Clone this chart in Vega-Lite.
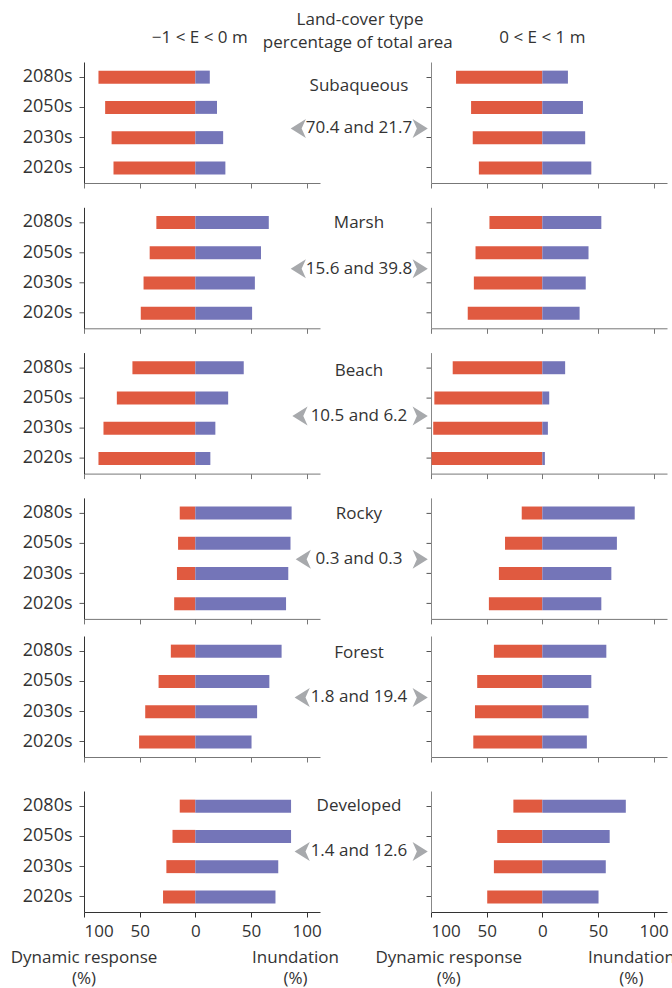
{
  "$schema": "https://vega.github.io/schema/vega-lite/v6.json",
  "background": "white",
  "padding": {"left": 10, "top": 11, "right": 0, "bottom": 0},
  "config": {
    "view": {"stroke": null},
    "font": "Open Sans",
    "text": {"font": "Open Sans", "fontSize": 17, "color": "#333333"},
    "axis": {"grid": false, "tickSize": 5, "labelFont": "Open Sans", "labelFontSize": 17, "labelColor": "#333333", "domainColor": "#555555", "tickColor": "#555555"},
    "axisY": {"labelFontSize": 18, "labelPadding": 7}
  },
  "datasets": {
    "bars": [
      {"t":"Subaqueous","z":"neg","d":"2080s","r":"Dynamic response","v":-87},{"t":"Subaqueous","z":"neg","d":"2080s","r":"Inundation","v":13},
      {"t":"Subaqueous","z":"neg","d":"2050s","r":"Dynamic response","v":-81},{"t":"Subaqueous","z":"neg","d":"2050s","r":"Inundation","v":19.5},
      {"t":"Subaqueous","z":"neg","d":"2030s","r":"Dynamic response","v":-75.2},{"t":"Subaqueous","z":"neg","d":"2030s","r":"Inundation","v":25},
      {"t":"Subaqueous","z":"neg","d":"2020s","r":"Dynamic response","v":-73.5},{"t":"Subaqueous","z":"neg","d":"2020s","r":"Inundation","v":27},
      {"t":"Subaqueous","z":"pos","d":"2080s","r":"Dynamic response","v":-77.5},{"t":"Subaqueous","z":"pos","d":"2080s","r":"Inundation","v":23},
      {"t":"Subaqueous","z":"pos","d":"2050s","r":"Dynamic response","v":-64},{"t":"Subaqueous","z":"pos","d":"2050s","r":"Inundation","v":36.5},
      {"t":"Subaqueous","z":"pos","d":"2030s","r":"Dynamic response","v":-62.5},{"t":"Subaqueous","z":"pos","d":"2030s","r":"Inundation","v":38.5},
      {"t":"Subaqueous","z":"pos","d":"2020s","r":"Dynamic response","v":-57},{"t":"Subaqueous","z":"pos","d":"2020s","r":"Inundation","v":44},
      {"t":"Marsh","z":"neg","d":"2080s","r":"Dynamic response","v":-35},{"t":"Marsh","z":"neg","d":"2080s","r":"Inundation","v":66},
      {"t":"Marsh","z":"neg","d":"2050s","r":"Dynamic response","v":-41},{"t":"Marsh","z":"neg","d":"2050s","r":"Inundation","v":59},
      {"t":"Marsh","z":"neg","d":"2030s","r":"Dynamic response","v":-46.5},{"t":"Marsh","z":"neg","d":"2030s","r":"Inundation","v":53.5},
      {"t":"Marsh","z":"neg","d":"2020s","r":"Dynamic response","v":-49},{"t":"Marsh","z":"neg","d":"2020s","r":"Inundation","v":51},
      {"t":"Marsh","z":"pos","d":"2080s","r":"Dynamic response","v":-47.5},{"t":"Marsh","z":"pos","d":"2080s","r":"Inundation","v":53},
      {"t":"Marsh","z":"pos","d":"2050s","r":"Dynamic response","v":-60},{"t":"Marsh","z":"pos","d":"2050s","r":"Inundation","v":41.5},
      {"t":"Marsh","z":"pos","d":"2030s","r":"Dynamic response","v":-61.5},{"t":"Marsh","z":"pos","d":"2030s","r":"Inundation","v":39},
      {"t":"Marsh","z":"pos","d":"2020s","r":"Dynamic response","v":-67},{"t":"Marsh","z":"pos","d":"2020s","r":"Inundation","v":33.5},
      {"t":"Beach","z":"neg","d":"2080s","r":"Dynamic response","v":-56.5},{"t":"Beach","z":"neg","d":"2080s","r":"Inundation","v":43.5},
      {"t":"Beach","z":"neg","d":"2050s","r":"Dynamic response","v":-70.5},{"t":"Beach","z":"neg","d":"2050s","r":"Inundation","v":29.5},
      {"t":"Beach","z":"neg","d":"2030s","r":"Dynamic response","v":-82.5},{"t":"Beach","z":"neg","d":"2030s","r":"Inundation","v":18},
      {"t":"Beach","z":"neg","d":"2020s","r":"Dynamic response","v":-87},{"t":"Beach","z":"neg","d":"2020s","r":"Inundation","v":13.5},
      {"t":"Beach","z":"pos","d":"2080s","r":"Dynamic response","v":-80.5},{"t":"Beach","z":"pos","d":"2080s","r":"Inundation","v":20.5},
      {"t":"Beach","z":"pos","d":"2050s","r":"Dynamic response","v":-97},{"t":"Beach","z":"pos","d":"2050s","r":"Inundation","v":6.2},
      {"t":"Beach","z":"pos","d":"2030s","r":"Dynamic response","v":-98},{"t":"Beach","z":"pos","d":"2030s","r":"Inundation","v":5},
      {"t":"Beach","z":"pos","d":"2020s","r":"Dynamic response","v":-99.5},{"t":"Beach","z":"pos","d":"2020s","r":"Inundation","v":2.3},
      {"t":"Rocky","z":"neg","d":"2080s","r":"Dynamic response","v":-14},{"t":"Rocky","z":"neg","d":"2080s","r":"Inundation","v":86.5},
      {"t":"Rocky","z":"neg","d":"2050s","r":"Dynamic response","v":-15.5},{"t":"Rocky","z":"neg","d":"2050s","r":"Inundation","v":85.5},
      {"t":"Rocky","z":"neg","d":"2030s","r":"Dynamic response","v":-16.5},{"t":"Rocky","z":"neg","d":"2030s","r":"Inundation","v":83.5},
      {"t":"Rocky","z":"neg","d":"2020s","r":"Dynamic response","v":-19},{"t":"Rocky","z":"neg","d":"2020s","r":"Inundation","v":81.5},
      {"t":"Rocky","z":"pos","d":"2080s","r":"Dynamic response","v":-18.5},{"t":"Rocky","z":"pos","d":"2080s","r":"Inundation","v":83},
      {"t":"Rocky","z":"pos","d":"2050s","r":"Dynamic response","v":-33.5},{"t":"Rocky","z":"pos","d":"2050s","r":"Inundation","v":67},
      {"t":"Rocky","z":"pos","d":"2030s","r":"Dynamic response","v":-39},{"t":"Rocky","z":"pos","d":"2030s","r":"Inundation","v":62},
      {"t":"Rocky","z":"pos","d":"2020s","r":"Dynamic response","v":-48},{"t":"Rocky","z":"pos","d":"2020s","r":"Inundation","v":53},
      {"t":"Forest","z":"neg","d":"2080s","r":"Dynamic response","v":-22},{"t":"Forest","z":"neg","d":"2080s","r":"Inundation","v":77.5},
      {"t":"Forest","z":"neg","d":"2050s","r":"Dynamic response","v":-33},{"t":"Forest","z":"neg","d":"2050s","r":"Inundation","v":66.5},
      {"t":"Forest","z":"neg","d":"2030s","r":"Dynamic response","v":-45},{"t":"Forest","z":"neg","d":"2030s","r":"Inundation","v":55.5},
      {"t":"Forest","z":"neg","d":"2020s","r":"Dynamic response","v":-50.5},{"t":"Forest","z":"neg","d":"2020s","r":"Inundation","v":50.5},
      {"t":"Forest","z":"pos","d":"2080s","r":"Dynamic response","v":-43.5},{"t":"Forest","z":"pos","d":"2080s","r":"Inundation","v":57.5},
      {"t":"Forest","z":"pos","d":"2050s","r":"Dynamic response","v":-58.5},{"t":"Forest","z":"pos","d":"2050s","r":"Inundation","v":44},
      {"t":"Forest","z":"pos","d":"2030s","r":"Dynamic response","v":-60.5},{"t":"Forest","z":"pos","d":"2030s","r":"Inundation","v":41.5},
      {"t":"Forest","z":"pos","d":"2020s","r":"Dynamic response","v":-62},{"t":"Forest","z":"pos","d":"2020s","r":"Inundation","v":40},
      {"t":"Developed","z":"neg","d":"2080s","r":"Dynamic response","v":-14},{"t":"Developed","z":"neg","d":"2080s","r":"Inundation","v":86},
      {"t":"Developed","z":"neg","d":"2050s","r":"Dynamic response","v":-20.5},{"t":"Developed","z":"neg","d":"2050s","r":"Inundation","v":86},
      {"t":"Developed","z":"neg","d":"2030s","r":"Dynamic response","v":-26},{"t":"Developed","z":"neg","d":"2030s","r":"Inundation","v":74.5},
      {"t":"Developed","z":"neg","d":"2020s","r":"Dynamic response","v":-29},{"t":"Developed","z":"neg","d":"2020s","r":"Inundation","v":72},
      {"t":"Developed","z":"pos","d":"2080s","r":"Dynamic response","v":-26},{"t":"Developed","z":"pos","d":"2080s","r":"Inundation","v":75},
      {"t":"Developed","z":"pos","d":"2050s","r":"Dynamic response","v":-40.5},{"t":"Developed","z":"pos","d":"2050s","r":"Inundation","v":60.5},
      {"t":"Developed","z":"pos","d":"2030s","r":"Dynamic response","v":-43.5},{"t":"Developed","z":"pos","d":"2030s","r":"Inundation","v":57},
      {"t":"Developed","z":"pos","d":"2020s","r":"Dynamic response","v":-49.5},{"t":"Developed","z":"pos","d":"2020s","r":"Inundation","v":50.5}
    ],
    "labels": [
      {"t":"Subaqueous","pct":"70.4 and 21.7"},
      {"t":"Marsh","pct":"15.6 and 39.8"},
      {"t":"Beach","pct":"10.5 and 6.2"},
      {"t":"Rocky","pct":"0.3 and 0.3"},
      {"t":"Forest","pct":"1.8 and 19.4"},
      {"t":"Developed","pct":"1.4 and 12.6"}
    ]
  },
  "vconcat": [
    {
      "vconcat": [
        {
          "vconcat": [
            {
              "hconcat": [
                {
                  "width": 236, "height": 121,
                  "layer": [
                    {"data": {"name": "bars"}, "transform": [{"filter": "datum.t == 'Subaqueous' && datum.z == 'neg'"}],
                     "mark": {"type": "bar", "height": 13},
                     "encoding": {
                       "y": {"field": "d", "type": "nominal", "scale": {"domain": ["2080s","2050s","2030s","2020s"]}, "axis": {"title": null, "domainColor": "#333333"}},
                       "x": {"field": "v", "type": "quantitative", "stack": null, "scale": {"domain": [-100, 112], "nice": false}, "axis": {"title": null, "values": [-100,-50,0,50,100], "labels": false, "domainColor": "#777777", "tickColor": "#777777"}},
                       "color": {"field": "r", "type": "nominal", "scale": {"domain": ["Dynamic response","Inundation"], "range": ["#E05A40","#7475B8"]}, "legend": null}}},
                    {"data": {"name": "labels"}, "transform": [{"filter": "datum.t == 'Subaqueous'"}],
                     "mark": {"type": "text", "dy": 9},
                     "encoding": {"x": {"datum": 147, "type": "quantitative"}, "y": {"datum": "2080s", "type": "nominal"}, "text": {"field": "t"}}},
                    {"data": {"name": "labels"}, "transform": [{"filter": "datum.t == 'Subaqueous'"}],
                     "mark": {"type": "text", "dy": 21},
                     "encoding": {"x": {"datum": 147, "type": "quantitative"}, "y": {"datum": "2050s", "type": "nominal"}, "text": {"field": "pct"}}},
                    {"data": {"name": "labels"}, "transform": [{"filter": "datum.t == 'Subaqueous'"}],
                     "mark": {"type": "point", "shape": "M-0.8,0L0.8,-1L0.35,0L0.8,1Z", "filled": true, "size": 361, "color": "#A7A9AC", "opacity": 1, "yOffset": 21},
                     "encoding": {"x": {"datum": 92.5, "type": "quantitative"}, "y": {"datum": "2050s", "type": "nominal"}}},
                    {"data": {"name": "labels"}, "transform": [{"filter": "datum.t == 'Subaqueous'"}],
                     "mark": {"type": "point", "shape": "M0.8,0L-0.8,-1L-0.35,0L-0.8,1Z", "filled": true, "size": 361, "color": "#A7A9AC", "opacity": 1, "yOffset": 21},
                     "encoding": {"x": {"datum": 202, "type": "quantitative"}, "y": {"datum": "2050s", "type": "nominal"}}},
                    {"data": {"values": [{"s": "−1 < E < 0 m"}]},
                     "mark": {"type": "text", "dy": -39},
                     "encoding": {"x": {"datum": 4, "type": "quantitative"}, "y": {"datum": "2080s", "type": "nominal"}, "text": {"field": "s"}}},
                    {"data": {"values": [{"s": "Land-cover type"}]},
                     "mark": {"type": "text", "dy": -57},
                     "encoding": {"x": {"datum": 148, "type": "quantitative"}, "y": {"datum": "2080s", "type": "nominal"}, "text": {"field": "s"}}},
                    {"data": {"values": [{"s": "percentage of total area"}]},
                     "mark": {"type": "text", "dy": -34},
                     "encoding": {"x": {"datum": 146, "type": "quantitative"}, "y": {"datum": "2080s", "type": "nominal"}, "text": {"field": "s"}}}
                  ]
                },
                {
                  "width": 236, "height": 121,
                  "layer": [
                    {"data": {"name": "bars"}, "transform": [{"filter": "datum.t == 'Subaqueous' && datum.z == 'pos'"}],
                     "mark": {"type": "bar", "height": 13},
                     "encoding": {
                       "y": {"field": "d", "type": "nominal", "scale": {"domain": ["2080s","2050s","2030s","2020s"]}, "axis": {"title": null, "labels": false, "domainColor": "#888888"}},
                       "x": {"field": "v", "type": "quantitative", "stack": null, "scale": {"domain": [-100, 112], "nice": false}, "axis": {"title": null, "values": [-100,-50,0,50,100], "labels": false, "domainColor": "#777777", "tickColor": "#777777"}},
                       "color": {"field": "r", "type": "nominal", "scale": {"domain": ["Dynamic response","Inundation"], "range": ["#E05A40","#7475B8"]}, "legend": null}}},
                    {"data": {"values": [{"s": "0 < E < 1 m"}]},
                     "mark": {"type": "text", "dy": -39},
                     "encoding": {"x": {"datum": 0, "type": "quantitative"}, "y": {"datum": "2080s", "type": "nominal"}, "text": {"field": "s"}}}
                  ]
                }
              ],
              "spacing": 111, "bounds": "flush"
            },
            {
              "hconcat": [
                {
                  "width": 236, "height": 121,
                  "layer": [
                    {"data": {"name": "bars"}, "transform": [{"filter": "datum.t == 'Marsh' && datum.z == 'neg'"}],
                     "mark": {"type": "bar", "height": 13},
                     "encoding": {
                       "y": {"field": "d", "type": "nominal", "scale": {"domain": ["2080s","2050s","2030s","2020s"]}, "axis": {"title": null, "domainColor": "#333333"}},
                       "x": {"field": "v", "type": "quantitative", "stack": null, "scale": {"domain": [-100, 112], "nice": false}, "axis": {"title": null, "values": [-100,-50,0,50,100], "labels": false, "domainColor": "#777777", "tickColor": "#777777"}},
                       "color": {"field": "r", "type": "nominal", "scale": {"domain": ["Dynamic response","Inundation"], "range": ["#E05A40","#7475B8"]}, "legend": null}}},
                    {"data": {"name": "labels"}, "transform": [{"filter": "datum.t == 'Marsh'"}],
                     "mark": {"type": "text", "dy": 1},
                     "encoding": {"x": {"datum": 147, "type": "quantitative"}, "y": {"datum": "2080s", "type": "nominal"}, "text": {"field": "t"}}},
                    {"data": {"name": "labels"}, "transform": [{"filter": "datum.t == 'Marsh'"}],
                     "mark": {"type": "text", "dy": 16},
                     "encoding": {"x": {"datum": 147, "type": "quantitative"}, "y": {"datum": "2050s", "type": "nominal"}, "text": {"field": "pct"}}},
                    {"data": {"name": "labels"}, "transform": [{"filter": "datum.t == 'Marsh'"}],
                     "mark": {"type": "point", "shape": "M-0.8,0L0.8,-1L0.35,0L0.8,1Z", "filled": true, "size": 361, "color": "#A7A9AC", "opacity": 1, "yOffset": 16},
                     "encoding": {"x": {"datum": 92.5, "type": "quantitative"}, "y": {"datum": "2050s", "type": "nominal"}}},
                    {"data": {"name": "labels"}, "transform": [{"filter": "datum.t == 'Marsh'"}],
                     "mark": {"type": "point", "shape": "M0.8,0L-0.8,-1L-0.35,0L-0.8,1Z", "filled": true, "size": 361, "color": "#A7A9AC", "opacity": 1, "yOffset": 16},
                     "encoding": {"x": {"datum": 202, "type": "quantitative"}, "y": {"datum": "2050s", "type": "nominal"}}}
                  ]
                },
                {
                  "width": 236, "height": 121,
                  "data": {"name": "bars"}, "transform": [{"filter": "datum.t == 'Marsh' && datum.z == 'pos'"}],
                  "mark": {"type": "bar", "height": 13},
                  "encoding": {
                    "y": {"field": "d", "type": "nominal", "scale": {"domain": ["2080s","2050s","2030s","2020s"]}, "axis": {"title": null, "labels": false, "domainColor": "#888888"}},
                    "x": {"field": "v", "type": "quantitative", "stack": null, "scale": {"domain": [-100, 112], "nice": false}, "axis": {"title": null, "values": [-100,-50,0,50,100], "labels": false, "domainColor": "#777777", "tickColor": "#777777"}},
                    "color": {"field": "r", "type": "nominal", "scale": {"domain": ["Dynamic response","Inundation"], "range": ["#E05A40","#7475B8"]}, "legend": null}}
                }
              ],
              "spacing": 111, "bounds": "flush"
            },
            {
              "hconcat": [
                {
                  "width": 236, "height": 121,
                  "layer": [
                    {"data": {"name": "bars"}, "transform": [{"filter": "datum.t == 'Beach' && datum.z == 'neg'"}],
                     "mark": {"type": "bar", "height": 13},
                     "encoding": {
                       "y": {"field": "d", "type": "nominal", "scale": {"domain": ["2080s","2050s","2030s","2020s"]}, "axis": {"title": null, "domainColor": "#333333"}},
                       "x": {"field": "v", "type": "quantitative", "stack": null, "scale": {"domain": [-100, 112], "nice": false}, "axis": {"title": null, "values": [-100,-50,0,50,100], "labels": false, "domainColor": "#777777", "tickColor": "#777777"}},
                       "color": {"field": "r", "type": "nominal", "scale": {"domain": ["Dynamic response","Inundation"], "range": ["#E05A40","#7475B8"]}, "legend": null}}},
                    {"data": {"name": "labels"}, "transform": [{"filter": "datum.t == 'Beach'"}],
                     "mark": {"type": "text", "dy": 3},
                     "encoding": {"x": {"datum": 147, "type": "quantitative"}, "y": {"datum": "2080s", "type": "nominal"}, "text": {"field": "t"}}},
                    {"data": {"name": "labels"}, "transform": [{"filter": "datum.t == 'Beach'"}],
                     "mark": {"type": "text", "dy": 18},
                     "encoding": {"x": {"datum": 147, "type": "quantitative"}, "y": {"datum": "2050s", "type": "nominal"}, "text": {"field": "pct"}}},
                    {"data": {"name": "labels"}, "transform": [{"filter": "datum.t == 'Beach'"}],
                     "mark": {"type": "point", "shape": "M-0.8,0L0.8,-1L0.35,0L0.8,1Z", "filled": true, "size": 361, "color": "#A7A9AC", "opacity": 1, "yOffset": 18},
                     "encoding": {"x": {"datum": 94, "type": "quantitative"}, "y": {"datum": "2050s", "type": "nominal"}}},
                    {"data": {"name": "labels"}, "transform": [{"filter": "datum.t == 'Beach'"}],
                     "mark": {"type": "point", "shape": "M0.8,0L-0.8,-1L-0.35,0L-0.8,1Z", "filled": true, "size": 361, "color": "#A7A9AC", "opacity": 1, "yOffset": 18},
                     "encoding": {"x": {"datum": 202, "type": "quantitative"}, "y": {"datum": "2050s", "type": "nominal"}}}
                  ]
                },
                {
                  "width": 236, "height": 121,
                  "data": {"name": "bars"}, "transform": [{"filter": "datum.t == 'Beach' && datum.z == 'pos'"}],
                  "mark": {"type": "bar", "height": 13},
                  "encoding": {
                    "y": {"field": "d", "type": "nominal", "scale": {"domain": ["2080s","2050s","2030s","2020s"]}, "axis": {"title": null, "labels": false, "domainColor": "#888888"}},
                    "x": {"field": "v", "type": "quantitative", "stack": null, "scale": {"domain": [-100, 112], "nice": false}, "axis": {"title": null, "values": [-100,-50,0,50,100], "labels": false, "domainColor": "#777777", "tickColor": "#777777"}},
                    "color": {"field": "r", "type": "nominal", "scale": {"domain": ["Dynamic response","Inundation"], "range": ["#E05A40","#7475B8"]}, "legend": null}}
                }
              ],
              "spacing": 111, "bounds": "flush"
            },
            {
              "hconcat": [
                {
                  "width": 236, "height": 121,
                  "layer": [
                    {"data": {"name": "bars"}, "transform": [{"filter": "datum.t == 'Rocky' && datum.z == 'neg'"}],
                     "mark": {"type": "bar", "height": 13},
                     "encoding": {
                       "y": {"field": "d", "type": "nominal", "scale": {"domain": ["2080s","2050s","2030s","2020s"]}, "axis": {"title": null, "domainColor": "#333333"}},
                       "x": {"field": "v", "type": "quantitative", "stack": null, "scale": {"domain": [-100, 112], "nice": false}, "axis": {"title": null, "values": [-100,-50,0,50,100], "labels": false, "domainColor": "#777777", "tickColor": "#777777"}},
                       "color": {"field": "r", "type": "nominal", "scale": {"domain": ["Dynamic response","Inundation"], "range": ["#E05A40","#7475B8"]}, "legend": null}}},
                    {"data": {"name": "labels"}, "transform": [{"filter": "datum.t == 'Rocky'"}],
                     "mark": {"type": "text", "dy": 1},
                     "encoding": {"x": {"datum": 147, "type": "quantitative"}, "y": {"datum": "2080s", "type": "nominal"}, "text": {"field": "t"}}},
                    {"data": {"name": "labels"}, "transform": [{"filter": "datum.t == 'Rocky'"}],
                     "mark": {"type": "text", "dy": 16},
                     "encoding": {"x": {"datum": 147, "type": "quantitative"}, "y": {"datum": "2050s", "type": "nominal"}, "text": {"field": "pct"}}},
                    {"data": {"name": "labels"}, "transform": [{"filter": "datum.t == 'Rocky'"}],
                     "mark": {"type": "point", "shape": "M-0.8,0L0.8,-1L0.35,0L0.8,1Z", "filled": true, "size": 361, "color": "#A7A9AC", "opacity": 1, "yOffset": 16},
                     "encoding": {"x": {"datum": 97, "type": "quantitative"}, "y": {"datum": "2050s", "type": "nominal"}}},
                    {"data": {"name": "labels"}, "transform": [{"filter": "datum.t == 'Rocky'"}],
                     "mark": {"type": "point", "shape": "M0.8,0L-0.8,-1L-0.35,0L-0.8,1Z", "filled": true, "size": 361, "color": "#A7A9AC", "opacity": 1, "yOffset": 16},
                     "encoding": {"x": {"datum": 202, "type": "quantitative"}, "y": {"datum": "2050s", "type": "nominal"}}}
                  ]
                },
                {
                  "width": 236, "height": 121,
                  "data": {"name": "bars"}, "transform": [{"filter": "datum.t == 'Rocky' && datum.z == 'pos'"}],
                  "mark": {"type": "bar", "height": 13},
                  "encoding": {
                    "y": {"field": "d", "type": "nominal", "scale": {"domain": ["2080s","2050s","2030s","2020s"]}, "axis": {"title": null, "labels": false, "domainColor": "#888888"}},
                    "x": {"field": "v", "type": "quantitative", "stack": null, "scale": {"domain": [-100, 112], "nice": false}, "axis": {"title": null, "values": [-100,-50,0,50,100], "labels": false, "domainColor": "#777777", "tickColor": "#777777"}},
                    "color": {"field": "r", "type": "nominal", "scale": {"domain": ["Dynamic response","Inundation"], "range": ["#E05A40","#7475B8"]}, "legend": null}}
                }
              ],
              "spacing": 111, "bounds": "flush"
            }
          ],
          "spacing": 18.3
        },
        {
          "hconcat": [
            {
              "width": 236, "height": 121,
              "layer": [
                {"data": {"name": "bars"}, "transform": [{"filter": "datum.t == 'Forest' && datum.z == 'neg'"}],
                 "mark": {"type": "bar", "height": 13},
                 "encoding": {
                   "y": {"field": "d", "type": "nominal", "scale": {"domain": ["2080s","2050s","2030s","2020s"]}, "axis": {"title": null, "domainColor": "#333333"}},
                   "x": {"field": "v", "type": "quantitative", "stack": null, "scale": {"domain": [-100, 112], "nice": false}, "axis": {"title": null, "values": [-100,-50,0,50,100], "labels": false, "domainColor": "#777777", "tickColor": "#777777"}},
                   "color": {"field": "r", "type": "nominal", "scale": {"domain": ["Dynamic response","Inundation"], "range": ["#E05A40","#7475B8"]}, "legend": null}}},
                {"data": {"name": "labels"}, "transform": [{"filter": "datum.t == 'Forest'"}],
                 "mark": {"type": "text", "dy": 2},
                 "encoding": {"x": {"datum": 147, "type": "quantitative"}, "y": {"datum": "2080s", "type": "nominal"}, "text": {"field": "t"}}},
                {"data": {"name": "labels"}, "transform": [{"filter": "datum.t == 'Forest'"}],
                 "mark": {"type": "text", "dy": 16},
                 "encoding": {"x": {"datum": 147, "type": "quantitative"}, "y": {"datum": "2050s", "type": "nominal"}, "text": {"field": "pct"}}},
                {"data": {"name": "labels"}, "transform": [{"filter": "datum.t == 'Forest'"}],
                 "mark": {"type": "point", "shape": "M-0.8,0L0.8,-1L0.35,0L0.8,1Z", "filled": true, "size": 361, "color": "#A7A9AC", "opacity": 1, "yOffset": 16},
                 "encoding": {"x": {"datum": 96, "type": "quantitative"}, "y": {"datum": "2050s", "type": "nominal"}}},
                {"data": {"name": "labels"}, "transform": [{"filter": "datum.t == 'Forest'"}],
                 "mark": {"type": "point", "shape": "M0.8,0L-0.8,-1L-0.35,0L-0.8,1Z", "filled": true, "size": 361, "color": "#A7A9AC", "opacity": 1, "yOffset": 16},
                 "encoding": {"x": {"datum": 202, "type": "quantitative"}, "y": {"datum": "2050s", "type": "nominal"}}}
              ]
            },
            {
              "width": 236, "height": 121,
              "data": {"name": "bars"}, "transform": [{"filter": "datum.t == 'Forest' && datum.z == 'pos'"}],
              "mark": {"type": "bar", "height": 13},
              "encoding": {
                "y": {"field": "d", "type": "nominal", "scale": {"domain": ["2080s","2050s","2030s","2020s"]}, "axis": {"title": null, "labels": false, "domainColor": "#888888"}},
                "x": {"field": "v", "type": "quantitative", "stack": null, "scale": {"domain": [-100, 112], "nice": false}, "axis": {"title": null, "values": [-100,-50,0,50,100], "labels": false, "domainColor": "#777777", "tickColor": "#777777"}},
                "color": {"field": "r", "type": "nominal", "scale": {"domain": ["Dynamic response","Inundation"], "range": ["#E05A40","#7475B8"]}, "legend": null}}
            }
          ],
          "spacing": 111, "bounds": "flush"
        }
      ],
      "spacing": 11
    },
    {
      "hconcat": [
        {
          "width": 236, "height": 121,
          "layer": [
            {"data": {"name": "bars"}, "transform": [{"filter": "datum.t == 'Developed' && datum.z == 'neg'"}],
             "mark": {"type": "bar", "height": 13},
             "encoding": {
               "y": {"field": "d", "type": "nominal", "scale": {"domain": ["2080s","2050s","2030s","2020s"]}, "axis": {"title": null, "domainColor": "#333333"}},
               "x": {"field": "v", "type": "quantitative", "stack": null, "scale": {"domain": [-100, 112], "nice": false}, "axis": {"title": null, "values": [-100,-50,0,50,100], "labelExpr": "abs(datum.value)", "labelPadding": 6, "domainColor": "#333333", "tickColor": "#333333"}},
               "color": {"field": "r", "type": "nominal", "scale": {"domain": ["Dynamic response","Inundation"], "range": ["#E05A40","#7475B8"]}, "legend": null}}},
            {"data": {"name": "labels"}, "transform": [{"filter": "datum.t == 'Developed'"}],
             "mark": {"type": "text", "dy": 0},
             "encoding": {"x": {"datum": 147, "type": "quantitative"}, "y": {"datum": "2080s", "type": "nominal"}, "text": {"field": "t"}}},
            {"data": {"name": "labels"}, "transform": [{"filter": "datum.t == 'Developed'"}],
             "mark": {"type": "text", "dy": 15},
             "encoding": {"x": {"datum": 147, "type": "quantitative"}, "y": {"datum": "2050s", "type": "nominal"}, "text": {"field": "pct"}}},
            {"data": {"name": "labels"}, "transform": [{"filter": "datum.t == 'Developed'"}],
             "mark": {"type": "point", "shape": "M-0.8,0L0.8,-1L0.35,0L0.8,1Z", "filled": true, "size": 361, "color": "#A7A9AC", "opacity": 1, "yOffset": 15},
             "encoding": {"x": {"datum": 96, "type": "quantitative"}, "y": {"datum": "2050s", "type": "nominal"}}},
            {"data": {"name": "labels"}, "transform": [{"filter": "datum.t == 'Developed'"}],
             "mark": {"type": "point", "shape": "M0.8,0L-0.8,-1L-0.35,0L-0.8,1Z", "filled": true, "size": 361, "color": "#A7A9AC", "opacity": 1, "yOffset": 15},
             "encoding": {"x": {"datum": 202, "type": "quantitative"}, "y": {"datum": "2050s", "type": "nominal"}}},
            {"data": {"values": [{"s": "Dynamic response"}]},
             "mark": {"type": "text", "dy": 61},
             "encoding": {"x": {"datum": -100, "type": "quantitative"}, "y": {"datum": "2020s", "type": "nominal"}, "text": {"field": "s"}}},
            {"data": {"values": [{"s": "(%)"}]},
             "mark": {"type": "text", "dy": 82},
             "encoding": {"x": {"datum": -100, "type": "quantitative"}, "y": {"datum": "2020s", "type": "nominal"}, "text": {"field": "s"}}},
            {"data": {"values": [{"s": "Inundation"}]},
             "mark": {"type": "text", "dy": 61},
             "encoding": {"x": {"datum": 90, "type": "quantitative"}, "y": {"datum": "2020s", "type": "nominal"}, "text": {"field": "s"}}},
            {"data": {"values": [{"s": "(%)"}]},
             "mark": {"type": "text", "dy": 82},
             "encoding": {"x": {"datum": 90, "type": "quantitative"}, "y": {"datum": "2020s", "type": "nominal"}, "text": {"field": "s"}}}
          ]
        },
        {
          "width": 236, "height": 121,
          "layer": [
            {"data": {"name": "bars"}, "transform": [{"filter": "datum.t == 'Developed' && datum.z == 'pos'"}],
             "mark": {"type": "bar", "height": 13},
             "encoding": {
               "y": {"field": "d", "type": "nominal", "scale": {"domain": ["2080s","2050s","2030s","2020s"]}, "axis": {"title": null, "labels": false, "domainColor": "#888888"}},
               "x": {"field": "v", "type": "quantitative", "stack": null, "scale": {"domain": [-100, 112], "nice": false}, "axis": {"title": null, "values": [-100,-50,0,50,100], "labelExpr": "abs(datum.value)", "labelPadding": 6, "domainColor": "#333333", "tickColor": "#333333"}},
               "color": {"field": "r", "type": "nominal", "scale": {"domain": ["Dynamic response","Inundation"], "range": ["#E05A40","#7475B8"]}, "legend": null}}},
            {"data": {"values": [{"s": "Dynamic response"}]},
             "mark": {"type": "text", "dy": 61},
             "encoding": {"x": {"datum": -84, "type": "quantitative"}, "y": {"datum": "2020s", "type": "nominal"}, "text": {"field": "s"}}},
            {"data": {"values": [{"s": "(%)"}]},
             "mark": {"type": "text", "dy": 82},
             "encoding": {"x": {"datum": -84, "type": "quantitative"}, "y": {"datum": "2020s", "type": "nominal"}, "text": {"field": "s"}}},
            {"data": {"values": [{"s": "Inundation"}]},
             "mark": {"type": "text", "dy": 61},
             "encoding": {"x": {"datum": 80, "type": "quantitative"}, "y": {"datum": "2020s", "type": "nominal"}, "text": {"field": "s"}}},
            {"data": {"values": [{"s": "(%)"}]},
             "mark": {"type": "text", "dy": 82},
             "encoding": {"x": {"datum": 80, "type": "quantitative"}, "y": {"datum": "2020s", "type": "nominal"}, "text": {"field": "s"}}}
          ]
        }
      ],
      "spacing": 111, "bounds": "flush"
    }
  ],
  "spacing": 28
}
